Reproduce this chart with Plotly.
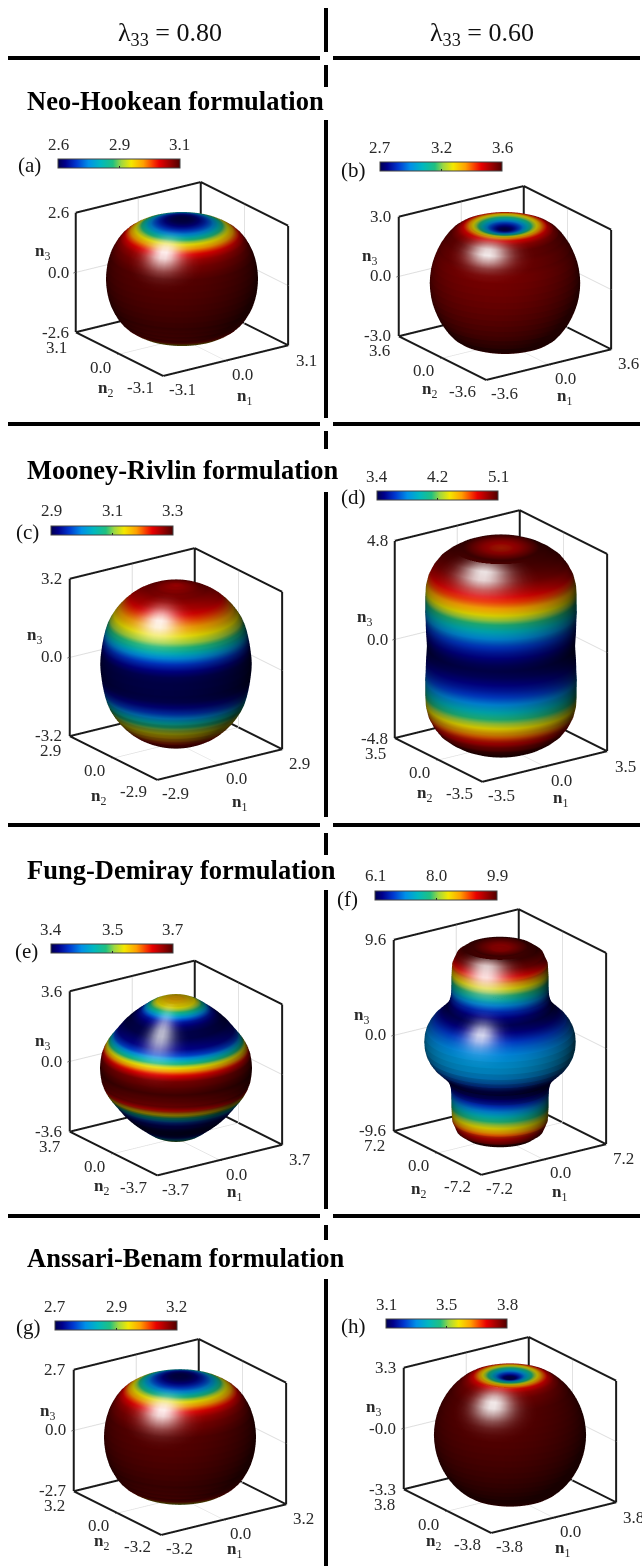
import math
import numpy as np
import plotly.graph_objects as go

W, H = 642, 1566

# ---------- data ----------
polar_angles_deg = [0, 5, 10, 15, 20, 25, 30, 35, 40, 45, 50, 55, 60, 65, 70, 75, 80, 85, 90]

radius_a = [2.60, 2.60, 2.61, 2.63, 2.66, 2.70, 2.75, 2.82, 2.89, 2.95, 3.01, 3.05, 3.07, 3.08, 3.09, 3.09, 3.09, 3.09, 3.09]
radius_b = [2.70, 2.72, 2.79, 2.88, 3.00, 3.16, 3.32, 3.45, 3.53, 3.57, 3.57, 3.56, 3.56, 3.55, 3.55, 3.55, 3.55, 3.55, 3.55]
radius_c = [3.19, 3.20, 3.21, 3.22, 3.22, 3.21, 3.20, 3.18, 3.155, 3.13, 3.10, 3.07, 3.03, 2.98, 2.935, 2.905, 2.885, 2.88, 2.88]
radius_d = [4.75, 4.78, 4.85, 4.96, 5.09, 5.08, 5.05, 5.00, 4.88, 4.72, 4.50, 4.24, 4.01, 3.84, 3.68, 3.57, 3.49, 3.43, 3.40]
radius_e = [3.59, 3.59, 3.58, 3.57, 3.53, 3.47, 3.42, 3.40, 3.39, 3.39, 3.40, 3.41, 3.44, 3.50, 3.57, 3.63, 3.67, 3.68, 3.69]
radius_f = [9.35, 9.40, 9.60, 9.85, 9.90, 9.70, 9.03, 8.00, 7.15, 6.55, 6.25, 6.15, 6.25, 6.45, 6.70, 6.90, 7.05, 7.13, 7.15]
radius_g = [2.70, 2.70, 2.71, 2.73, 2.76, 2.80, 2.85, 2.92, 2.99, 3.05, 3.11, 3.15, 3.17, 3.18, 3.19, 3.19, 3.19, 3.19, 3.19]
radius_h = [3.10, 3.12, 3.22, 3.33, 3.45, 3.58, 3.68, 3.74, 3.77, 3.78, 3.79, 3.79, 3.79, 3.79, 3.79, 3.79, 3.79, 3.79, 3.79]
radii = [radius_a, radius_b, radius_c, radius_d, radius_e, radius_f, radius_g, radius_h]

panel_names = ["(a)", "(b)", "(c)", "(d)", "(e)", "(f)", "(g)", "(h)"]
n12_limits = [3.1, 3.6, 2.9, 3.5, 3.7, 7.2, 3.2, 3.8]
n3_limits = [2.6, 3.0, 3.2, 4.8, 3.6, 9.6, 2.7, 3.3]
n3_zero_text = ["0.0", "0.0", "0.0", "0.0", "0.0", "0.0", "0.0", "-0.0"]

color_ranges = [(2.6, 3.1), (2.7, 3.6), (2.88, 3.25), (3.4, 5.1), (3.39, 3.69), (6.1, 9.9), (2.7, 3.2), (3.1, 3.8)]
bar_labels = [("2.6", "2.9", "3.1"), ("2.7", "3.2", "3.6"), ("2.9", "3.1", "3.3"), ("3.4", "4.2", "5.1"),
              ("3.4", "3.5", "3.7"), ("6.1", "8.0", "9.9"), ("2.7", "2.9", "3.2"), ("3.1", "3.5", "3.8")]

row_titles = ["Neo-Hookean formulation", "Mooney-Rivlin formulation", "Fung-Demiray formulation", "Anssari-Benam formulation"]
column_titles = ["λ<sub>33</sub> = 0.80", "λ<sub>33</sub> = 0.60"]

colormap = [[0.00, "#000050"], [0.06, "#00008c"], [0.15, "#0038d0"], [0.25, "#0090e8"], [0.35, "#00b8c0"],
            [0.45, "#20c080"], [0.52, "#a0d840"], [0.60, "#f4e800"], [0.70, "#ffa000"], [0.78, "#f83800"],
            [0.83, "#e80000"], [0.91, "#a00000"], [1.00, "#500000"]]

# ---------- layout (pixels in the page) ----------
box_left = [76, 398, 69, 395, 69, 393, 73, 403]
box_right = [288, 611, 282, 607, 282, 606, 286, 616]
box_top = [212, 216, 578, 540, 991, 939, 1369, 1367]      # top of the left edge
box_low = [346, 349, 749, 752, 1145, 1144, 1504, 1503]    # bottom of the right edge
box_tall = [120, 120, 158, 198, 141, 192, 122, 122]

bar_x = [(58, 180), (380, 502), (51, 173), (377, 498), (51, 173), (375, 497), (55, 177), (386, 507)]
bar_y = [162, 165, 529, 494, 947, 894, 1324, 1322]
letter_xy = [(29, 165), (354, 170), (27, 532), (353, 497), (26, 951), (348, 899), (28, 1327), (353, 1326)]

n1_shift = [(19, 36), (16, 33), (20, 39), (16, 33), (15, 33), (16, 34), (11, 31), (9, 31)]
n2_shift = [(-14, 35), (-13, 32), (-15, 39), (-14, 34), (-12, 33), (-19, 38), (-16, 29), (-14, 31)]
n3_shift = [(-33, -20), (-29, -19), (-35, -21), (-30, -21), (-27, -19), (-32, -19), (-26, -18), (-30, -20)]

title_y = [101, 470, 870, 1258]
hrule_y = [58, 424, 825, 1216]
vrule_spans = [(8, 52), (65, 87), (120, 418), (431, 449), (492, 817), (833, 855), (890, 1209), (1225, 1240), (1279, 1566)]

# glare spots: (polar angle, polar width, sideways width, strength), style only
GLARE_AZIMUTH = 218
GLARE_LIFT = 1.04
glare_spots = [
    [(51, 9, 9, 0.95)],
    [(48.5, 7, 11, 0.95)],
    [(41.7, 8, 9, 0.95)],
    [(32, 6, 9, 0.95)],
    [(43.5, 14, 7, 0.75)],
    [(28, 5, 8, 0.95), (65, 8, 9, 0.85)],
    [(51, 9, 10, 0.95)],
    [(47, 9, 10, 0.95)],
]

SCENE_HALF_W = 132
scene_half_h = [140, 140, 140, 140, 140, 140, 129, 129]
ZOOM_PER_PX = 212.5 / (195 / 140)   # box width wanted / box width per pixel of half height at scale 1
EYE = 2.0
AZ, EL = math.radians(35), math.radians(20.5)
SERIF = "Liberation Serif"
TICK = dict(family=SERIF, size=17, color="#2a2a2a")
IN = 0.9995  # keeps corner marks inside the axis range

# ---------- build ----------
fig = go.Figure()
azimuth_deg = np.arange(360, -1, -5)
azimuth = np.radians(azimuth_deg)
polar_deg = np.array(polar_angles_deg + [180 - a for a in polar_angles_deg[-2::-1]])
polar_full = np.radians(polar_deg)
layout_scenes = {}
page_notes = []
px = lambda v: v / W
py = lambda v: 1 - v / H

for i, half in enumerate(radii):
    r = np.array(half + half[-2::-1])
    X, Z = n12_limits[i], n3_limits[i]
    name = "scene" if i == 0 else f"scene{i + 1}"
    x = np.outer(r * np.sin(polar_full), np.cos(azimuth))
    y = np.outer(r * np.sin(polar_full), np.sin(azimuth))
    z = np.outer(r * np.cos(polar_full), np.ones_like(azimuth))
    c = np.outer(r, np.ones_like(azimuth))
    cmin, cmax = color_ranges[i]
    x0, x1 = bar_x[i]
    fig.add_surface(
        x=x, y=y, z=z, surfacecolor=c, scene=name, cmin=cmin, cmax=cmax, colorscale=colormap, hoverinfo="skip",
        lighting=dict(ambient=0.26, diffuse=0.7, specular=0, roughness=0.5, fresnel=0),
        lightposition=dict(x=-16000, y=26000, z=-150),
        colorbar=dict(orientation="h", lenmode="pixels", len=x1 - x0, thickness=9, thicknessmode="pixels",
                      x=x0 / W, xanchor="left", y=1 - (bar_y[i] + 9) / H, yanchor="bottom", xpad=0, ypad=0,
                      tickvals=[(cmin + cmax) / 2], showticklabels=False, ticks="inside", ticklen=2, tickcolor="#222222",
                      outlinecolor="#444444", outlinewidth=1, borderwidth=0),
    )
    # white glare laid just over the surface
    dp, da = np.meshgrid(polar_deg, azimuth_deg, indexing="ij")
    glare = np.zeros_like(c)
    for pol, w_pol, w_side, strength in glare_spots[i]:
        side = (da - GLARE_AZIMUTH) * np.sin(np.radians(pol))
        glare = np.maximum(glare, strength * np.exp(-0.5 * (((dp - pol) / w_pol) ** 2 + (side / w_side) ** 2)))
    fig.add_surface(
        x=x * GLARE_LIFT, y=y * GLARE_LIFT, z=z * GLARE_LIFT, surfacecolor=glare, scene=name, cmin=0, cmax=1,
        showscale=False, colorscale=[[0, "white"], [1, "white"]], opacityscale=[[0, 0], [1, 1]], hoverinfo="skip",
        lighting=dict(ambient=1, diffuse=0, specular=0, roughness=0.5, fresnel=0),
    )
    for frac, label in zip((0, 0.5, 1), bar_labels[i]):
        page_notes.append(dict(text=label, x=px(x0 + frac * (x1 - x0)), y=py(bar_y[i] - 18), xref="paper", yref="paper",
                               xanchor="center", yanchor="middle", showarrow=False, font=TICK))
    a, b = X * IN, Z * IN
    # back walls and floor outline, taken from the axis limits
    lx = [-a, a, None, a, a, None, -a, -a, None, -a, a, None, a, a, None, -a, a, None, a, a, None, a, a, None, -a, -a]
    ly = [-a, -a, None, -a, a, None, -a, a, None, a, a, None, -a, a, None, a, a, None, a, a, None, -a, -a, None, a, a]
    lz = [-b, -b, None, -b, -b, None, -b, -b, None, -b, -b, None, b, b, None, b, b, None, -b, b, None, -b, b, None, -b, b]
    fig.add_scatter3d(x=lx, y=ly, z=lz, mode="lines", line=dict(color="#1a1a1a", width=4), scene=name,
                      hoverinfo="skip", showlegend=False)

    cx = (box_left[i] + box_right[i]) / 2
    cy = (box_top[i] + box_low[i]) / 2
    axis = dict(showbackground=False, showspikes=False, zeroline=False, showline=False, showticklabels=False,
                gridcolor="#dedede", gridwidth=2, ticks="outside", ticklen=3, tickcolor="#222222", title=dict(text=""),
                tickvals=[0])
    note = lambda **k: dict(showarrow=False, font=TICK, yanchor="middle", **k)
    bold = lambda n: f"<b>n</b><sub>{n}</sub>"
    tx = f"{X:.1f}"
    annotations = [
        note(x=-a, y=-a, z=-b, text=f"-{tx}", xshift=19, yshift=-14),
        note(x=0, y=-a, z=-b, text="0.0", xshift=17, yshift=-14),
        note(x=a, y=-a, z=-b, text=tx, xshift=18, yshift=-15),
        note(x=-a, y=-a, z=-b, text=f"-{tx}", xshift=-23, yshift=-12),
        note(x=-a, y=0, z=-b, text="0.0", xshift=-19, yshift=-13),
        note(x=-a, y=a, z=-b, text=tx, xshift=-19, yshift=-15),
        note(x=-a, y=a, z=b, text=f"{Z:.1f}", xanchor="right", xshift=-5),
        note(x=-a, y=a, z=0, text=n3_zero_text[i], xanchor="right", xshift=-5),
        note(x=-a, y=a, z=-b, text=f"-{Z:.1f}", xanchor="right", xshift=-5),
        note(x=0, y=-a, z=-b, text=bold(1), xshift=n1_shift[i][0], yshift=-n1_shift[i][1]),
        note(x=-a, y=0, z=-b, text=bold(2), xshift=n2_shift[i][0], yshift=-n2_shift[i][1]),
        note(x=-a, y=a, z=0, text=bold(3), xshift=n3_shift[i][0], yshift=-n3_shift[i][1]),
    ]
    hh = scene_half_h[i]
    k = ZOOM_PER_PX / hh
    layout_scenes[name] = dict(
        domain=dict(x=[(cx - SCENE_HALF_W) / W, (cx + SCENE_HALF_W) / W],
                    y=[1 - (cy + hh) / H, 1 - (cy - hh) / H]),
        aspectmode="manual", aspectratio=dict(x=k, y=k, z=k * box_tall[i] / 143.4),
        xaxis=dict(axis, range=[-X, X]),
        yaxis=dict(axis, range=[-X, X]),
        zaxis=dict(axis, range=[-Z, Z]),
        camera=dict(projection=dict(type="orthographic"), center=dict(x=0, y=0, z=0), up=dict(x=0, y=0, z=1),
                    eye=dict(x=-EYE * math.sin(AZ) * math.cos(EL), y=-EYE * math.cos(AZ) * math.cos(EL),
                             z=EYE * math.sin(EL))),
        annotations=annotations, bgcolor="rgba(0,0,0,0)",
    )

for name, (x, y) in zip(panel_names, letter_xy):
    page_notes.append(dict(text=name, x=px(x), y=py(y), xref="paper", yref="paper", showarrow=False,
                           xanchor="center", yanchor="middle", font=dict(family=SERIF, size=21, color="#111111")))
for text, y in zip(row_titles, title_y):
    page_notes.append(dict(text=f"<b>{text}</b>", x=px(25), y=py(y), xref="paper", yref="paper", xanchor="left",
                           yanchor="middle", showarrow=False, font=dict(family=SERIF, size=26.5, color="#000000")))
for text, x in zip(column_titles, [170, 482]):
    page_notes.append(dict(text=text, x=px(x), y=py(34), xref="paper", yref="paper", showarrow=False,
                           xanchor="center", yanchor="middle", font=dict(family=SERIF, size=26, color="#111111")))

shapes = []
for y in hrule_y:
    for x0, x1 in [(8, 320), (333, 640)]:
        shapes.append(dict(type="rect", xref="paper", yref="paper", x0=px(x0), x1=px(x1), y0=py(y - 2), y1=py(y + 2),
                           fillcolor="#000000", line_width=0))
for y0, y1 in vrule_spans:
    shapes.append(dict(type="rect", xref="paper", yref="paper", x0=px(324), x1=px(328), y0=py(y0), y1=py(y1),
                       fillcolor="#000000", line_width=0))

fig.update_layout(width=W, height=H, margin=dict(l=0, r=0, t=0, b=0), paper_bgcolor="white", showlegend=False,
                  annotations=page_notes, shapes=shapes, **layout_scenes)
fig.write_html("out.html", post_script="document.body.style.margin='0';", config=dict(displayModeBar=False))
